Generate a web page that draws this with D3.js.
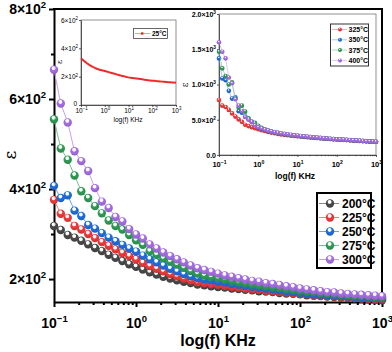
<!DOCTYPE html>
<html>
<head>
<meta charset="utf-8" />
<script src="https://d3js.org/d3.v7.min.js"></script>
<style>
body { margin: 0; background: #fff; }
svg { font-family: Arial, "Liberation Sans", sans-serif; }
.main-axis path, .main-axis line { stroke: #000; stroke-width: 2px; }
.inset-axis path, .inset-axis line { stroke: #333; stroke-width: 0.8px; }
</style>
</head>
<body>
<script>
// frequency grid (KHz), shared by all curves
var freq = [0.1, 0.121, 0.147, 0.178, 0.215, 0.261, 0.316, 0.383, 0.464, 0.562, 0.681, 0.825,
  1, 1.21, 1.47, 1.78, 2.15, 2.61, 3.16, 3.83, 4.64, 5.62, 6.81, 8.25,
  10, 12.1, 14.7, 17.8, 21.5, 26.1, 31.6, 38.3, 46.4, 56.2, 68.1, 82.5,
  100, 121, 147, 178, 215, 261, 316, 383, 464, 562, 681, 825, 1000];

// main plot
var mainLabels = ["200°C", "225°C", "250°C", "275°C", "300°C"];
var mainColors = ["#4a4a4a", "#f03a3a", "#1f6fe0", "#2f9e55", "#a86fe6"];
var eps200 = [318, 309, 298, 292, 285, 277, 269, 262, 254, 247, 240, 233, 227, 221, 215, 210, 205, 201, 197, 194,
  191, 188, 186, 184, 182, 181, 179, 178, 176, 175, 173, 172, 171, 169, 168, 167, 166, 164, 163, 162, 161, 160,
  159, 158, 157, 156, 155, 154, 153];
var eps225 = [376, 345, 336, 318, 310, 300, 291, 282, 274, 266, 258, 251, 244, 236, 229, 223, 217, 211, 206, 201,
  197, 193, 191, 189, 187, 185, 183, 181, 179, 177, 176, 174, 173, 171, 170, 168, 167, 166, 164, 163, 162, 161,
  160, 159, 158, 157, 156, 155, 155];
var eps250 = [407, 380, 386, 352, 340, 320, 312, 302, 292, 284, 276, 268, 261, 252, 244, 237, 230, 223, 217, 211,
  206, 202, 199, 197, 194, 192, 189, 187, 185, 183, 181, 179, 177, 175, 173, 171, 169, 168, 166, 165, 164, 163,
  162, 161, 160, 159, 158, 157, 157];
var eps275 = [555, 490, 465, 430, 395, 380, 362, 346, 330, 318, 310, 298, 286, 276, 262, 254, 246, 239, 232, 225,
  218, 212, 208, 205, 202, 199, 196, 193, 191, 188, 186, 184, 182, 180, 178, 176, 174, 172, 171, 169, 168, 166,
  165, 164, 163, 162, 161, 160, 159];
var eps300 = [665, 590, 548, 484, 462, 440, 402, 372, 358, 338, 328, 311, 299, 290, 277, 268, 259, 251, 244, 237,
  230, 224, 220, 216, 212, 208, 205, 202, 199, 196, 194, 191, 189, 187, 184, 182, 179, 177, 175, 173, 171, 170,
  168, 167, 166, 165, 164, 163, 162];

// inset 1: room temperature
var eps25 = [330, 318, 306, 295, 285, 277, 269, 262, 256, 251, 247, 243, 240, 236, 232, 228, 224, 220, 216, 212,
  208, 205, 202, 198, 195, 193, 191, 189, 187, 185, 183, 181, 179, 177, 175, 173.5, 172, 170.5, 169, 168, 166.5,
  165, 164, 162.5, 161, 160, 159, 158, 157];

// inset 2: high temperatures
var hiLabels = ["325°C", "350°C", "375°C", "400°C"];
var hiColors = ["#f03a3a", "#1f6fe0", "#2f9e55", "#a86fe6"];
var eps325 = [780, 700, 680, 640, 590, 545, 505, 470, 430, 410, 395, 380, 365, 352, 340, 328, 318, 308, 300, 292,
  286, 280, 275, 270, 265, 261, 257, 253, 249, 245, 241, 237, 233, 230, 227, 224, 221, 218, 215, 212, 209, 206,
  203, 200, 197, 195, 192, 190, 188];
var eps350 = [1370, 1085, 1060, 910, 800, 820, 620, 600, 545, 515, 470, 425, 390, 372, 355, 342, 330, 318, 310, 302,
  294, 287, 281, 275, 270, 265, 260, 255, 251, 247, 243, 239, 235, 232, 228, 225, 222, 219, 216, 213, 210, 207,
  204, 201, 198, 195, 192, 190, 187];
var eps375 = [1465, 1229, 1120, 1000, 1030, 800, 670, 700, 615, 520, 470, 455, 415, 385, 365, 348, 335, 323, 314, 306,
  298, 291, 284, 278, 273, 268, 263, 258, 253, 249, 245, 241, 237, 233, 230, 226, 223, 220, 217, 214, 211, 208,
  205, 202, 199, 196, 193, 190, 188];
var eps400 = [1600, 1465, 1371, 1100, 1017, 790, 700, 625, 540, 500, 470, 420, 395, 375, 360, 346, 334, 324, 315, 307,
  300, 293, 287, 281, 276, 270, 265, 260, 255, 251, 247, 243, 239, 235, 231, 228, 224, 221, 218, 215, 212, 209,
  206, 203, 200, 197, 194, 191, 189];

var mainSeries = [eps200, eps225, eps250, eps275, eps300];
var hiSeries = [eps325, eps350, eps375, eps400];

var xTicks = [0.1, 1, 10, 100, 1000];
var xExp = ["\u22121", "0", "1", "2", "3"];

var W = 392, H = 352;
var svg = d3.select("body").append("svg").attr("width", W).attr("height", H);
var defs = svg.append("defs");

// sphere-like marker fills (big and small variants)
function gradId(c, small) { return (small ? "s" : "g") + c.slice(1); }
Array.from(new Set(mainColors.concat(hiColors))).forEach(function(c) {
  [false, true].forEach(function(small) {
    var g = defs.append("radialGradient").attr("id", gradId(c, small))
      .attr("cx", "45%").attr("cy", "35%").attr("r", "65%").attr("fx", "45%").attr("fy", "30%");
    g.append("stop").attr("offset", "0%").attr("stop-color", "#fff");
    g.append("stop").attr("offset", small ? "12%" : "26%").attr("stop-color", "#fff").attr("stop-opacity", 0.9);
    g.append("stop").attr("offset", small ? "30%" : "42%").attr("stop-color", c);
    g.append("stop").attr("offset", "100%").attr("stop-color", d3.color(c).darker(0.4));
  });
});

function supText(sel, base, exp, fs) {
  sel.text(null);
  sel.append("tspan").text(base);
  sel.append("tspan").attr("dy", -fs * 0.42).attr("font-size", fs * 0.68).text(exp);
}

function minorLogTicks() {
  var t = [];
  [0.1, 1, 10, 100].forEach(function(d) { for (var k = 2; k <= 9; k++) t.push(d * k); });
  return t;
}

// ---------------- main plot ----------------
var x = d3.scaleLog().domain([0.1, 1000]).range([54, 382]);
var y = d3.scaleLinear().domain([149, 800]).range([302, 9]);

var gx = svg.append("g").attr("class", "main-axis").attr("transform", "translate(0,302)")
  .call(d3.axisBottom(x).tickValues(xTicks).tickSize(5).tickSizeOuter(0));
gx.selectAll("text").attr("font-size", 14).attr("font-weight", "bold").attr("dy", "1.25em")
  .each(function(d, i) { supText(d3.select(this), "10", xExp[i], 14); });
svg.append("g").attr("class", "main-axis").attr("transform", "translate(0,302)")
  .call(d3.axisBottom(x).tickValues(minorLogTicks()).tickSize(3).tickFormat(""))
  .select(".domain").remove();

var gy = svg.append("g").attr("class", "main-axis").attr("transform", "translate(54,0)")
  .call(d3.axisLeft(y).tickValues([200, 400, 600, 800]).tickSize(5).tickSizeOuter(0));
gy.selectAll("text").attr("font-size", 14).attr("font-weight", "bold").attr("x", -8)
  .each(function(d) { supText(d3.select(this), (d / 100) + "\u00d710", "2", 14); });
svg.append("g").attr("class", "main-axis").attr("transform", "translate(54,0)")
  .call(d3.axisLeft(y).tickValues([300, 500, 700]).tickSize(3).tickFormat(""))
  .select(".domain").remove();

// frame top and right
svg.append("line").attr("x1", 53).attr("x2", 383).attr("y1", 9).attr("y2", 9).attr("stroke", "#000").attr("stroke-width", 2);
svg.append("line").attr("x1", 382).attr("x2", 382).attr("y1", 9).attr("y2", 302).attr("stroke", "#000").attr("stroke-width", 2);

svg.append("text").attr("x", 218).attr("y", 346).attr("text-anchor", "middle")
  .attr("font-size", 16).attr("font-weight", "bold").text("log(f) KHz");
svg.append("text").attr("transform", "translate(16,155) rotate(-90)").attr("text-anchor", "middle")
  .attr("font-size", 17).attr("font-family", "DejaVu Serif, serif").text("\u03b5");

function drawSeries(g, xs, ys, vals, color, r, lw, small) {
  var pts = vals.map(function(v, i) { return [freq[i], v]; });
  g.append("path").datum(pts)
    .attr("fill", "none").attr("stroke", d3.interpolateRgb(color, "#fff")(0.35)).attr("stroke-width", lw)
    .attr("d", d3.line().x(function(d) { return xs(d[0]); }).y(function(d) { return ys(d[1]); }));
  g.selectAll(null).data(pts).enter().append("circle")
    .attr("cx", function(d) { return xs(d[0]); })
    .attr("cy", function(d) { return ys(d[1]); })
    .attr("r", r)
    .attr("fill", "url(#" + gradId(color, small) + ")");
}

var plotMain = svg.append("g");
mainSeries.forEach(function(s, i) { drawSeries(plotMain, x, y, s, mainColors[i], 4.2, 1, false); });

// main legend
var lg = svg.append("g");
lg.append("rect").attr("x", 317).attr("y", 193).attr("width", 54).attr("height", 75)
  .attr("fill", "#fff").attr("stroke", "#000").attr("stroke-width", 2);
mainLabels.forEach(function(l, i) {
  var ly = 203.5 + i * 14;
  lg.append("line").attr("x1", 319).attr("x2", 339).attr("y1", ly).attr("y2", ly)
    .attr("stroke", d3.interpolateRgb(mainColors[i], "#fff")(0.35)).attr("stroke-width", 1);
  lg.append("circle").attr("cx", 330).attr("cy", ly).attr("r", 4.2).attr("fill", "url(#" + gradId(mainColors[i], false) + ")");
  lg.append("text").attr("x", 342).attr("y", ly + 4.5).attr("font-size", 12).attr("font-weight", "bold").text(l);
});

// ---------------- inset 1 ----------------
var x1 = d3.scaleLog().domain([0.1, 1000]).range([81, 176]);
var y1 = d3.scaleLinear().domain([0, 600]).range([105, 20]);
svg.append("rect").attr("x", 81).attr("y", 20).attr("width", 95).attr("height", 85)
  .attr("fill", "#fff").attr("stroke", "#777").attr("stroke-width", 0.8);
var i1x = svg.append("g").attr("class", "inset-axis").attr("transform", "translate(0,105)")
  .call(d3.axisBottom(x1).tickValues(xTicks).tickSize(2).tickSizeOuter(0));
i1x.selectAll("text").attr("font-size", 6.5).attr("y", 3).attr("dy", "0.75em")
  .each(function(d, i) { supText(d3.select(this), "10", xExp[i], 6.5); });
var i1y = svg.append("g").attr("class", "inset-axis").attr("transform", "translate(81,0)")
  .call(d3.axisLeft(y1).tickValues([0, 200, 400, 600]).tickSize(2).tickSizeOuter(0));
i1y.selectAll("text").attr("font-size", 6.5).attr("x", -3)
  .each(function(d) {
    if (d === 0) d3.select(this).text("0").attr("dy", "0em").attr("x", -4);
    else supText(d3.select(this), (d / 100) + "\u00d710", "2", 6.5);
  });
svg.append("text").attr("x", 128).attr("y", 122).attr("text-anchor", "middle").attr("font-size", 6.5).text("log(f) KHz");
svg.append("text").attr("transform", "translate(62,62) rotate(-90)").attr("text-anchor", "middle")
  .attr("font-size", 8).attr("font-family", "DejaVu Serif, serif").text("\u03b5");
var pts25 = eps25.map(function(v, i) { return [freq[i], v]; });
svg.append("path").datum(pts25).attr("fill", "none").attr("stroke", "#f02a2a").attr("stroke-width", 2)
  .attr("d", d3.line().x(function(d) { return x1(d[0]); }).y(function(d) { return y1(d[1]); }));
svg.append("rect").attr("x", 133.5).attr("y", 28.5).attr("width", 34).attr("height", 10)
  .attr("fill", "#fff").attr("stroke", "#444").attr("stroke-width", 0.8);
svg.append("line").attr("x1", 135).attr("x2", 150).attr("y1", 33.5).attr("y2", 33.5).attr("stroke", "#f08080").attr("stroke-width", 0.8);
svg.append("rect").attr("x", 141).attr("y", 32.3).attr("width", 2.4).attr("height", 2.4).attr("fill", "#f02a2a");
svg.append("text").attr("x", 152).attr("y", 36).attr("font-size", 6.5).attr("font-weight", "bold").text("25°C");

// ---------------- inset 2 ----------------
var x2 = d3.scaleLog().domain([0.1, 1000]).range([219, 376]);
var y2 = d3.scaleLinear().domain([0, 2000]).range([155, 14]);
svg.append("rect").attr("x", 219).attr("y", 14).attr("width", 157).attr("height", 141)
  .attr("fill", "#fff").attr("stroke", "#777").attr("stroke-width", 0.8);
var i2x = svg.append("g").attr("class", "inset-axis").attr("transform", "translate(0,155)")
  .call(d3.axisBottom(x2).tickValues(xTicks).tickSize(2).tickSizeOuter(0));
i2x.selectAll("text").attr("font-size", 7.5).attr("font-weight", "bold").attr("dy", "0.9em")
  .each(function(d, i) { supText(d3.select(this), "10", xExp[i], 7.5); });
svg.append("g").attr("class", "inset-axis").attr("transform", "translate(0,155)")
  .call(d3.axisBottom(x2).tickValues(minorLogTicks()).tickSize(1.2).tickFormat(""))
  .select(".domain").remove();
var i2y = svg.append("g").attr("class", "inset-axis").attr("transform", "translate(219,0)")
  .call(d3.axisLeft(y2).tickValues([0, 500, 1000, 1500, 2000]).tickSize(2).tickSizeOuter(0));
i2y.selectAll("text").attr("font-size", 7).attr("font-weight", "bold").attr("x", -3)
  .each(function(d) {
    if (d === 0) d3.select(this).text("0.0");
    else if (d < 1000) supText(d3.select(this), (d / 100).toFixed(1) + "\u00d710", "2", 7);
    else supText(d3.select(this), (d / 1000).toFixed(1) + "\u00d710", "3", 7);
  });
svg.append("text").attr("x", 295).attr("y", 179).attr("text-anchor", "middle")
  .attr("font-size", 8.5).attr("font-weight", "bold").text("log(f) KHz");
svg.append("text").attr("transform", "translate(188,85) rotate(-90)").attr("text-anchor", "middle")
  .attr("font-size", 9).attr("font-family", "DejaVu Serif, serif").text("\u03b5");

var plotHi = svg.append("g");
hiSeries.forEach(function(s, i) { drawSeries(plotHi, x2, y2, s, hiColors[i], 2.3, 0.6, true); });

var lg2 = svg.append("g");
lg2.append("rect").attr("x", 330.5).attr("y", 24).attr("width", 38).attr("height", 42)
  .attr("fill", "#fff").attr("stroke", "#333").attr("stroke-width", 1);
hiLabels.forEach(function(l, i) {
  var ly = 29.5 + i * 10.3;
  lg2.append("line").attr("x1", 332).attr("x2", 347).attr("y1", ly).attr("y2", ly)
    .attr("stroke", d3.interpolateRgb(hiColors[i], "#fff")(0.35)).attr("stroke-width", 0.6);
  lg2.append("circle").attr("cx", 340).attr("cy", ly).attr("r", 2).attr("fill", "url(#" + gradId(hiColors[i], true) + ")");
  lg2.append("text").attr("x", 348.5).attr("y", ly + 2.5).attr("font-size", 7).attr("font-weight", "bold").text(l);
});
</script>
</body>
</html>
